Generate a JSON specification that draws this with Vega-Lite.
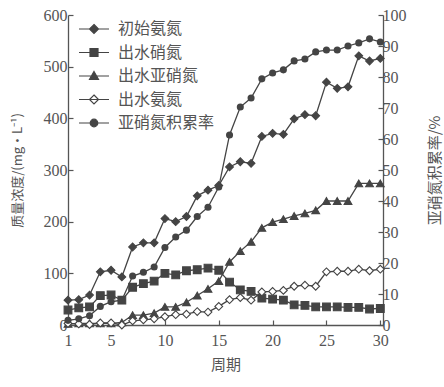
{
  "$schema": "https://vega.github.io/schema/vega-lite/v6.json",
  "width": 315,
  "height": 310,
  "autosize": {"type": "none"},
  "padding": {"left": 68, "top": 15, "right": 61, "bottom": 62},
  "background": "white",
  "config": {
    "view": {"stroke": null},
    "axis": {
      "grid": false,
      "domainColor": "#555",
      "domainWidth": 1.3,
      "tickColor": "#555",
      "tickWidth": 1.2,
      "tickSize": -5,
      "labelFont": "Liberation Serif",
      "labelFontSize": 16,
      "labelColor": "#555",
      "titleFont": "Noto Sans CJK SC",
      "titleFontSize": 14,
      "titleFontWeight": "normal",
      "titleColor": "#555"
    },
    "legend": {
      "labelFont": "Noto Sans CJK SC",
      "labelFontSize": 16,
      "labelColor": "#555"
    }
  },
  "datasets": {
    "d": [
      {"period": 1, "series": "初始氨氮", "value": 48}, {"period": 2, "series": "初始氨氮", "value": 49}, {"period": 3, "series": "初始氨氮", "value": 58}, {"period": 4, "series": "初始氨氮", "value": 103}, {"period": 5, "series": "初始氨氮", "value": 106}, {"period": 6, "series": "初始氨氮", "value": 93}, {"period": 7, "series": "初始氨氮", "value": 151}, {"period": 8, "series": "初始氨氮", "value": 159}, {"period": 9, "series": "初始氨氮", "value": 159}, {"period": 10, "series": "初始氨氮", "value": 206}, {"period": 11, "series": "初始氨氮", "value": 200}, {"period": 12, "series": "初始氨氮", "value": 210}, {"period": 13, "series": "初始氨氮", "value": 250}, {"period": 14, "series": "初始氨氮", "value": 261}, {"period": 15, "series": "初始氨氮", "value": 270}, {"period": 16, "series": "初始氨氮", "value": 306}, {"period": 17, "series": "初始氨氮", "value": 316}, {"period": 18, "series": "初始氨氮", "value": 313}, {"period": 19, "series": "初始氨氮", "value": 365}, {"period": 20, "series": "初始氨氮", "value": 371}, {"period": 21, "series": "初始氨氮", "value": 369}, {"period": 22, "series": "初始氨氮", "value": 399}, {"period": 23, "series": "初始氨氮", "value": 407}, {"period": 24, "series": "初始氨氮", "value": 405}, {"period": 25, "series": "初始氨氮", "value": 470}, {"period": 26, "series": "初始氨氮", "value": 458}, {"period": 27, "series": "初始氨氮", "value": 461}, {"period": 28, "series": "初始氨氮", "value": 521}, {"period": 29, "series": "初始氨氮", "value": 511}, {"period": 30, "series": "初始氨氮", "value": 516},
      {"period": 1, "series": "出水硝氮", "value": 29}, {"period": 2, "series": "出水硝氮", "value": 33}, {"period": 3, "series": "出水硝氮", "value": 35}, {"period": 4, "series": "出水硝氮", "value": 57}, {"period": 5, "series": "出水硝氮", "value": 58}, {"period": 6, "series": "出水硝氮", "value": 48}, {"period": 7, "series": "出水硝氮", "value": 73}, {"period": 8, "series": "出水硝氮", "value": 80}, {"period": 9, "series": "出水硝氮", "value": 85}, {"period": 10, "series": "出水硝氮", "value": 100}, {"period": 11, "series": "出水硝氮", "value": 97}, {"period": 12, "series": "出水硝氮", "value": 105}, {"period": 13, "series": "出水硝氮", "value": 107}, {"period": 14, "series": "出水硝氮", "value": 110}, {"period": 15, "series": "出水硝氮", "value": 106}, {"period": 16, "series": "出水硝氮", "value": 83}, {"period": 17, "series": "出水硝氮", "value": 68}, {"period": 18, "series": "出水硝氮", "value": 65}, {"period": 19, "series": "出水硝氮", "value": 52}, {"period": 20, "series": "出水硝氮", "value": 50}, {"period": 21, "series": "出水硝氮", "value": 48}, {"period": 22, "series": "出水硝氮", "value": 39}, {"period": 23, "series": "出水硝氮", "value": 38}, {"period": 24, "series": "出水硝氮", "value": 35}, {"period": 25, "series": "出水硝氮", "value": 35}, {"period": 26, "series": "出水硝氮", "value": 35}, {"period": 27, "series": "出水硝氮", "value": 34}, {"period": 28, "series": "出水硝氮", "value": 34}, {"period": 29, "series": "出水硝氮", "value": 31}, {"period": 30, "series": "出水硝氮", "value": 32},
      {"period": 1, "series": "出水亚硝氮", "value": 2}, {"period": 2, "series": "出水亚硝氮", "value": 3}, {"period": 3, "series": "出水亚硝氮", "value": 3}, {"period": 4, "series": "出水亚硝氮", "value": 3}, {"period": 5, "series": "出水亚硝氮", "value": 3}, {"period": 6, "series": "出水亚硝氮", "value": 5}, {"period": 7, "series": "出水亚硝氮", "value": 19}, {"period": 8, "series": "出水亚硝氮", "value": 19}, {"period": 9, "series": "出水亚硝氮", "value": 23}, {"period": 10, "series": "出水亚硝氮", "value": 35}, {"period": 11, "series": "出水亚硝氮", "value": 35}, {"period": 12, "series": "出水亚硝氮", "value": 44}, {"period": 13, "series": "出水亚硝氮", "value": 57}, {"period": 14, "series": "出水亚硝氮", "value": 70}, {"period": 15, "series": "出水亚硝氮", "value": 85}, {"period": 16, "series": "出水亚硝氮", "value": 122}, {"period": 17, "series": "出水亚硝氮", "value": 143}, {"period": 18, "series": "出水亚硝氮", "value": 161}, {"period": 19, "series": "出水亚硝氮", "value": 188}, {"period": 20, "series": "出水亚硝氮", "value": 199}, {"period": 21, "series": "出水亚硝氮", "value": 205}, {"period": 22, "series": "出水亚硝氮", "value": 211}, {"period": 23, "series": "出水亚硝氮", "value": 216}, {"period": 24, "series": "出水亚硝氮", "value": 222}, {"period": 25, "series": "出水亚硝氮", "value": 240}, {"period": 26, "series": "出水亚硝氮", "value": 240}, {"period": 27, "series": "出水亚硝氮", "value": 240}, {"period": 28, "series": "出水亚硝氮", "value": 274}, {"period": 29, "series": "出水亚硝氮", "value": 274}, {"period": 30, "series": "出水亚硝氮", "value": 274},
      {"period": 1, "series": "出水氨氮", "value": 3}, {"period": 2, "series": "出水氨氮", "value": 2}, {"period": 3, "series": "出水氨氮", "value": 1}, {"period": 4, "series": "出水氨氮", "value": 4}, {"period": 5, "series": "出水氨氮", "value": 4}, {"period": 6, "series": "出水氨氮", "value": 0}, {"period": 7, "series": "出水氨氮", "value": 8}, {"period": 8, "series": "出水氨氮", "value": 10}, {"period": 9, "series": "出水氨氮", "value": 12}, {"period": 10, "series": "出水氨氮", "value": 16}, {"period": 11, "series": "出水氨氮", "value": 20}, {"period": 12, "series": "出水氨氮", "value": 21}, {"period": 13, "series": "出水氨氮", "value": 26}, {"period": 14, "series": "出水氨氮", "value": 25}, {"period": 15, "series": "出水氨氮", "value": 36}, {"period": 16, "series": "出水氨氮", "value": 49}, {"period": 17, "series": "出水氨氮", "value": 53}, {"period": 18, "series": "出水氨氮", "value": 48}, {"period": 19, "series": "出水氨氮", "value": 64}, {"period": 20, "series": "出水氨氮", "value": 65}, {"period": 21, "series": "出水氨氮", "value": 67}, {"period": 22, "series": "出水氨氮", "value": 75}, {"period": 23, "series": "出水氨氮", "value": 77}, {"period": 24, "series": "出水氨氮", "value": 75}, {"period": 25, "series": "出水氨氮", "value": 103}, {"period": 26, "series": "出水氨氮", "value": 104}, {"period": 27, "series": "出水氨氮", "value": 104}, {"period": 28, "series": "出水氨氮", "value": 108}, {"period": 29, "series": "出水氨氮", "value": 105}, {"period": 30, "series": "出水氨氮", "value": 108},
      {"period": 1, "series": "亚硝氮积累率", "value": 1.5}, {"period": 2, "series": "亚硝氮积累率", "value": 2}, {"period": 3, "series": "亚硝氮积累率", "value": 3}, {"period": 4, "series": "亚硝氮积累率", "value": 6}, {"period": 5, "series": "亚硝氮积累率", "value": 7.5}, {"period": 6, "series": "亚硝氮积累率", "value": 8}, {"period": 7, "series": "亚硝氮积累率", "value": 15.8}, {"period": 8, "series": "亚硝氮积累率", "value": 17}, {"period": 9, "series": "亚硝氮积累率", "value": 18.7}, {"period": 10, "series": "亚硝氮积累率", "value": 25}, {"period": 11, "series": "亚硝氮积累率", "value": 28.4}, {"period": 12, "series": "亚硝氮积累率", "value": 30.6}, {"period": 13, "series": "亚硝氮积累率", "value": 35}, {"period": 14, "series": "亚硝氮积累率", "value": 38}, {"period": 15, "series": "亚硝氮积累率", "value": 44.5}, {"period": 16, "series": "亚硝氮积累率", "value": 61.3}, {"period": 17, "series": "亚硝氮积累率", "value": 70.3}, {"period": 18, "series": "亚硝氮积累率", "value": 73.2}, {"period": 19, "series": "亚硝氮积累率", "value": 79.4}, {"period": 20, "series": "亚硝氮积累率", "value": 81.3}, {"period": 21, "series": "亚硝氮积累率", "value": 82.3}, {"period": 22, "series": "亚硝氮积累率", "value": 85.2}, {"period": 23, "series": "亚硝氮积累率", "value": 85.8}, {"period": 24, "series": "亚硝氮积累率", "value": 88.1}, {"period": 25, "series": "亚硝氮积累率", "value": 88.7}, {"period": 26, "series": "亚硝氮积累率", "value": 88.7}, {"period": 27, "series": "亚硝氮积累率", "value": 90}, {"period": 28, "series": "亚硝氮积累率", "value": 91}, {"period": 29, "series": "亚硝氮积累率", "value": 92.3}, {"period": 30, "series": "亚硝氮积累率", "value": 91.3}
    ]
  },
  "data": {"name": "d"},
  "encoding": {
    "x": {
      "field": "period",
      "type": "quantitative",
      "scale": {"domain": [1, 30.25], "nice": false, "zero": false},
      "axis": {"values": [1, 5, 10, 15, 20, 25, 30], "title": "周期", "titleFontSize": 15, "labelPadding": 12, "titlePadding": 9, "labelFlush": false}
    }
  },
  "layer": [
    {
      "transform": [{"filter": "datum.series !== '亚硝氮积累率'"}],
      "encoding": {
        "y": {
          "field": "value",
          "type": "quantitative",
          "scale": {"domain": [0, 600], "nice": false},
          "axis": {"values": [0, 100, 200, 300, 400, 500, 600], "title": "质量浓度/(mg·L⁻¹)", "titleFontSize": 13, "labelPadding": 6, "titlePadding": 19}
        }
      },
      "layer": [
        {"mark": {"type": "line", "color": "#444", "strokeWidth": 1.3}, "encoding": {"detail": {"field": "series"}}},
        {
          "mark": {"type": "point", "stroke": "#444", "strokeWidth": 1.1, "opacity": 1, "size": 60},
          "encoding": {
            "shape": {"field": "series", "scale": {"domain": ["初始氨氮", "出水硝氮", "出水亚硝氮", "出水氨氮"], "range": ["diamond", "square", "triangle-up", "diamond"]}, "legend": null},
            "fill": {"field": "series", "scale": {"domain": ["初始氨氮", "出水硝氮", "出水亚硝氮", "出水氨氮"], "range": ["#444", "#444", "#444", "white"]}, "legend": null}
          }
        }
      ]
    },
    {
      "transform": [{"filter": "datum.series === '亚硝氮积累率'"}],
      "encoding": {
        "y": {
          "field": "value",
          "type": "quantitative",
          "scale": {"domain": [0, 100], "nice": false},
          "axis": {"orient": "right", "values": [0, 10, 20, 30, 40, 50, 60, 70, 80, 90, 100], "title": "亚硝氮积累率/%", "titleAngle": 270, "titleFontSize": 15, "labelPadding": 4, "titlePadding": 36}
        }
      },
      "layer": [
        {"mark": {"type": "line", "color": "#444", "strokeWidth": 1.3}, "encoding": {}},
        {"mark": {"type": "point", "shape": "circle", "filled": true, "color": "#444", "opacity": 1, "size": 50}, "encoding": {}}
      ]
    },
    {
      "transform": [{"filter": "datum.period < 0"}],
      "mark": {"type": "point", "strokeWidth": 1.2, "opacity": 1},
      "encoding": {
        "shape": {
          "field": "series",
          "scale": {
            "domain": ["初始氨氮", "出水硝氮", "出水亚硝氮", "出水氨氮", "亚硝氮积累率"],
            "range": [
              "M-1.5,0H1.5M0,-0.45L0.45,0L0,0.45L-0.45,0Z",
              "M-1.5,0H1.5M-0.4,-0.4H0.4V0.4H-0.4Z",
              "M-1.5,0H1.5M0,-0.45L0.45,0.35L-0.45,0.35Z",
              "M-1.5,0H1.5M0,-0.45L0.45,0L0,0.45L-0.45,0Z",
              "M-1.5,0H1.5M-0.38,0A0.38,0.38,0,1,1,0.38,0A0.38,0.38,0,1,1,-0.38,0Z"
            ]
          },
          "legend": {"title": null, "orient": "none", "legendX": 15, "legendY": 3, "symbolSize": 400, "symbolStrokeWidth": 1.2, "labelOffset": 13, "rowPadding": 4.5, "padding": 0}
        },
        "fill": {
          "field": "series",
          "scale": {"domain": ["初始氨氮", "出水硝氮", "出水亚硝氮", "出水氨氮", "亚硝氮积累率"], "range": ["#444", "#444", "#444", "white", "#444"]},
          "legend": {"title": null, "orient": "none", "legendX": 15, "legendY": 3, "symbolSize": 400, "symbolStrokeWidth": 1.2, "labelOffset": 13, "rowPadding": 4.5, "padding": 0}
        },
        "stroke": {
          "field": "series",
          "scale": {"domain": ["初始氨氮", "出水硝氮", "出水亚硝氮", "出水氨氮", "亚硝氮积累率"], "range": ["#444", "#444", "#444", "#444", "#444"]},
          "legend": {"title": null, "orient": "none", "legendX": 15, "legendY": 3, "symbolSize": 400, "symbolStrokeWidth": 1.2, "labelOffset": 13, "rowPadding": 4.5, "padding": 0}
        }
      }
    }
  ],
  "resolve": {"scale": {"y": "independent", "shape": "independent", "fill": "independent", "stroke": "independent"}}
}
